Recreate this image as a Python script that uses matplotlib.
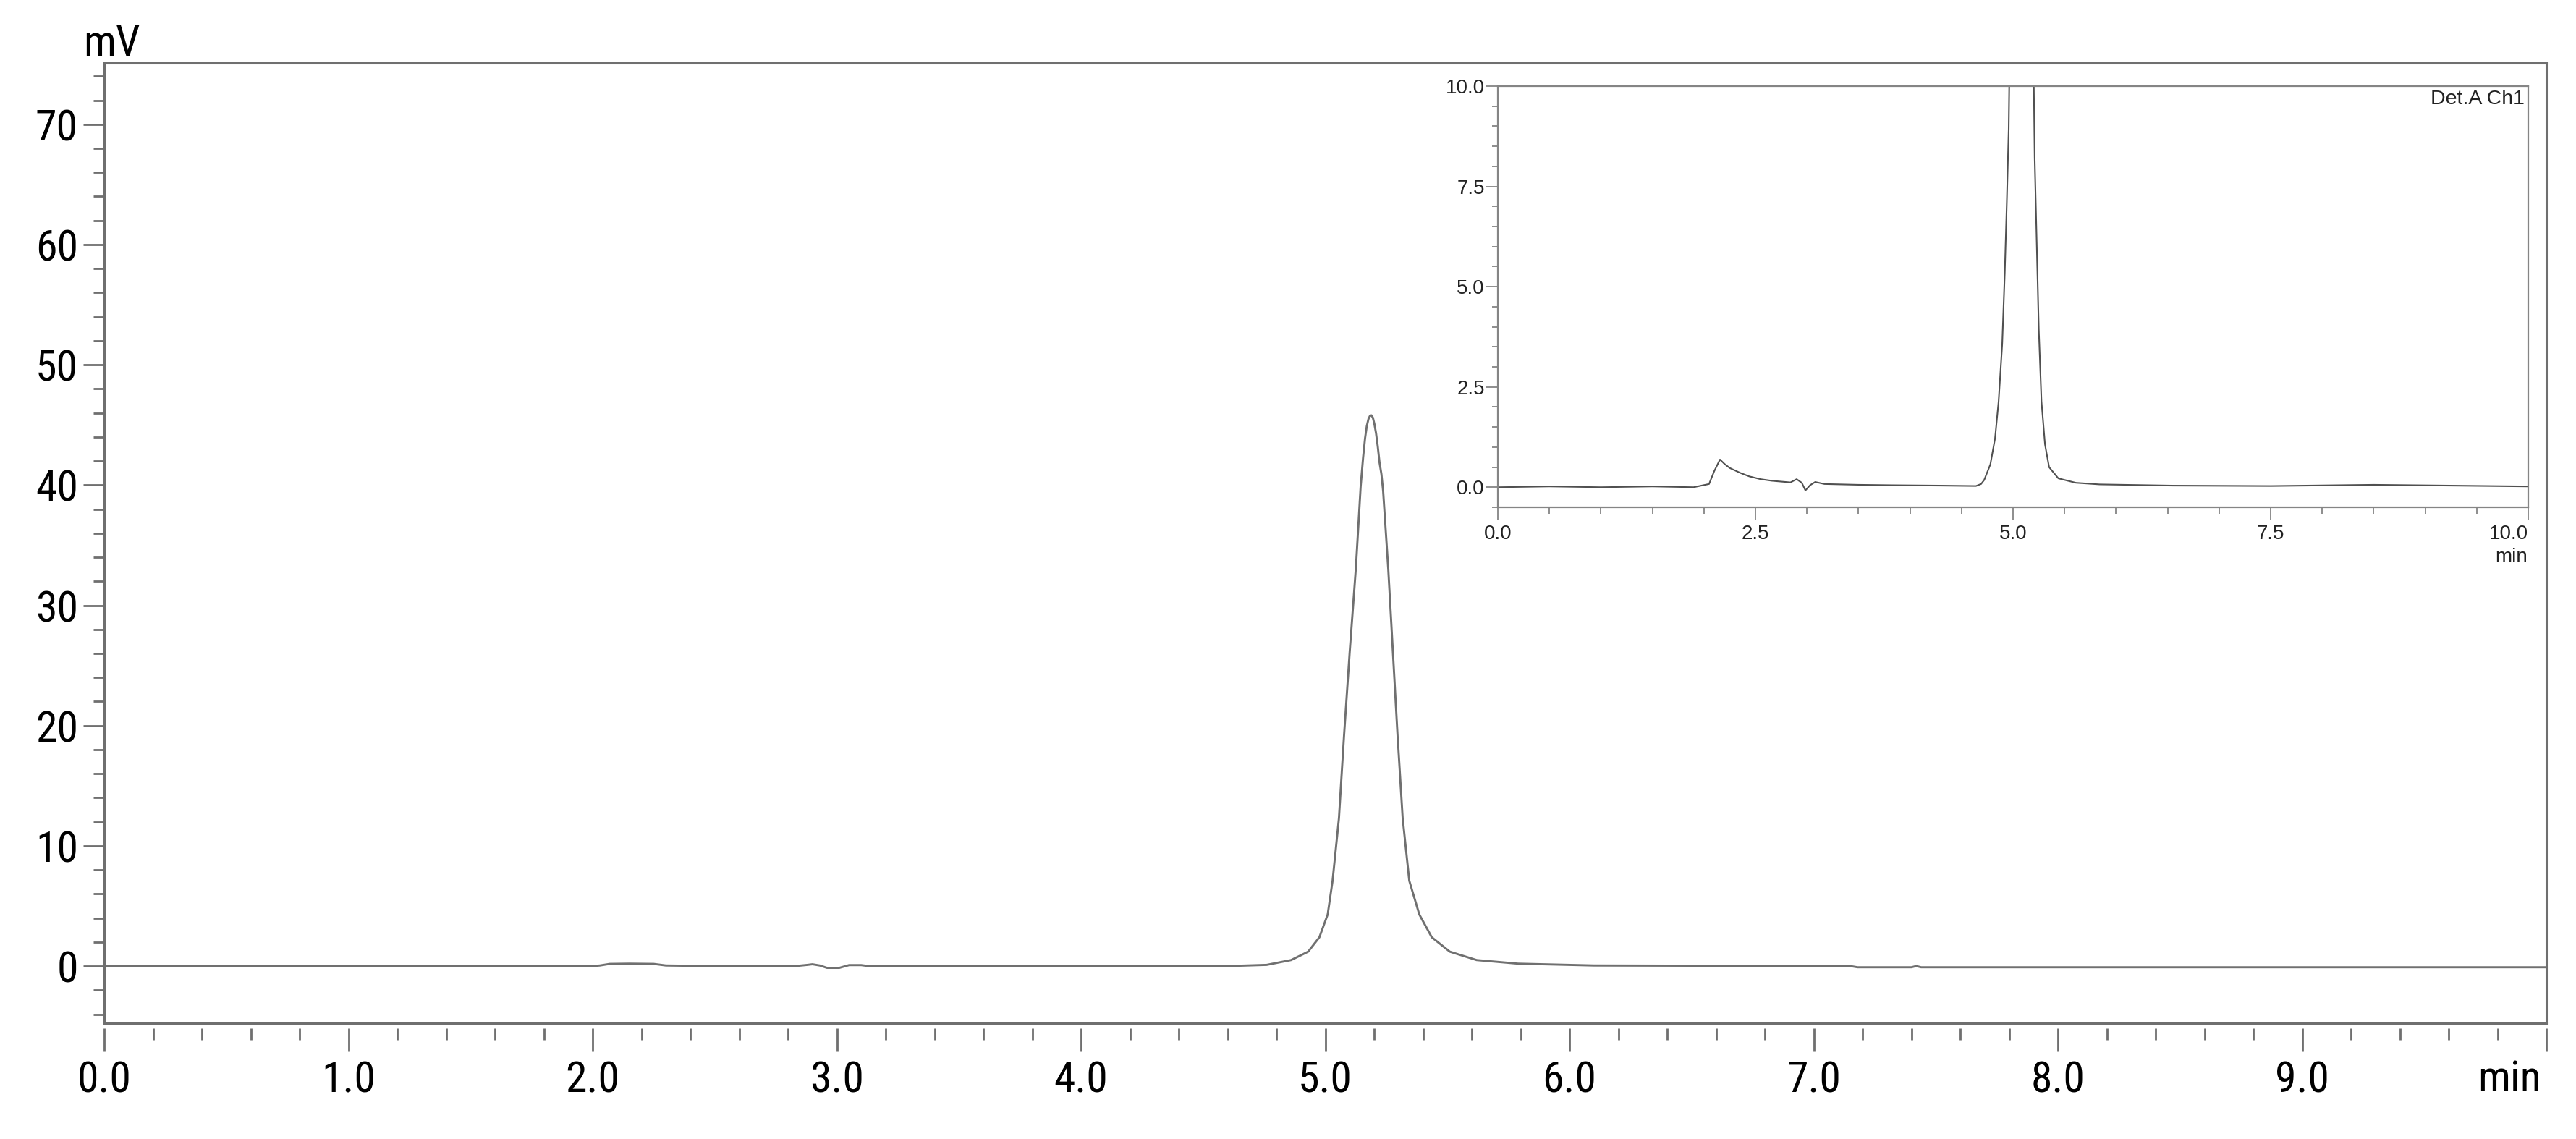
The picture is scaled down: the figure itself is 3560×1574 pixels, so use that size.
import numpy as np
import matplotlib
matplotlib.use('Agg')
import matplotlib.pyplot as plt
from matplotlib.ticker import MultipleLocator, FixedLocator, FixedFormatter

# main chromatogram (min, mV)
main_time = [0.0, 1.0, 2.0, 2.03, 2.07, 2.15, 2.25, 2.30, 2.41, 2.83, 2.88, 2.90,
             2.93, 2.96, 3.01, 3.05, 3.10, 3.13, 4.0, 4.60, 4.76, 4.86, 4.93,
             4.976, 5.01, 5.03, 5.056, 5.077, 5.10, 5.125, 5.145, 5.155, 5.163,
             5.170, 5.177, 5.183, 5.189, 5.195, 5.201, 5.208, 5.215, 5.222, 5.230,
             5.237, 5.258, 5.277, 5.296, 5.317, 5.344,
             5.385, 5.436, 5.51, 5.62, 5.79, 6.10, 7.15, 7.18, 7.40, 7.42, 7.44, 10.0]
main_signal = [0.0, 0.0, 0.0, 0.05, 0.18, 0.2, 0.18, 0.05, 0.02, 0.0, 0.1, 0.15,
               0.05, -0.15, -0.15, 0.08, 0.08, 0.0, 0.0, 0.0, 0.1, 0.5, 1.2,
               2.4, 4.3, 7.1, 12.3, 19.2, 26.1, 33.0, 39.9, 42.3, 43.9,
               44.9, 45.5, 45.75, 45.8, 45.6, 45.1, 44.3, 43.2, 41.9, 40.9,
               39.5, 33.0, 26.1, 19.2, 12.3, 7.1,
               4.3, 2.4, 1.2, 0.5, 0.2, 0.05, 0.0, -0.1, -0.1, 0.0, -0.1, -0.1]

# inset chromatogram (zoomed, Det.A Ch1)
inset_time = [0.0, 0.5, 1.0, 1.5, 1.9, 2.05, 2.10, 2.156, 2.20, 2.25, 2.35, 2.44,
              2.55, 2.66, 2.84, 2.90, 2.95, 2.985, 3.03, 3.08, 3.17, 3.5, 3.82,
              4.3, 4.64, 4.69, 4.72, 4.78, 4.825, 4.86, 4.895, 4.92, 4.94, 4.958,
              4.97, 5.08, 5.195, 5.21, 5.23, 5.25, 5.276, 5.31, 5.35, 5.44, 5.61,
              5.84, 6.55, 7.5, 8.5, 10.0]
inset_signal = [0.0, 0.02, 0.0, 0.02, 0.0, 0.08, 0.4, 0.69, 0.58, 0.48, 0.36, 0.27,
                0.2, 0.16, 0.12, 0.2, 0.11, -0.08, 0.05, 0.13, 0.08, 0.06, 0.05,
                0.04, 0.03, 0.08, 0.18, 0.57, 1.21, 2.14, 3.57, 5.36, 7.14, 8.93,
                11.5, 45.0, 11.5, 8.2, 6.07, 3.93, 2.14, 1.07, 0.5, 0.22, 0.11,
                0.07, 0.04, 0.03, 0.06, 0.02]

main_xticks = [0, 1, 2, 3, 4, 5, 6, 7, 8, 9, 10]
main_xlabels = ['0.0', '1.0', '2.0', '3.0', '4.0', '5.0', '6.0', '7.0', '8.0', '9.0', '']
main_yticks = [0, 10, 20, 30, 40, 50, 60, 70]
inset_xticks = [0.0, 2.5, 5.0, 7.5, 10.0]
inset_yticks = [0.0, 2.5, 5.0, 7.5, 10.0]

W, H = 3560, 1574
narrow = ['Roboto Condensed', 'Liberation Sans', 'DejaVu Sans']
regular = ['Liberation Sans', 'DejaVu Sans']
grey = '#6f6f6f'

fig = plt.figure(figsize=(W / 100, H / 100), dpi=100)
ax = fig.add_axes([144 / W, 1 - 1414 / H, 3375 / W, 1327 / H])

ax.plot(main_time, main_signal, color='#707070', lw=2.1)
ax.set_xlim(0, 10)
ax.set_ylim(-4.75, 75.1)

for s in ['left', 'top', 'right']:
    ax.spines[s].set_color(grey)
    ax.spines[s].set_linewidth(2.2)
# ticks of the x axis sit a little below the frame
ax.spines['bottom'].set_position(('outward', 5))
ax.spines['bottom'].set_color('none')
ax.plot([0, 1], [0, 0], transform=ax.transAxes, color=grey, lw=2.2,
        clip_on=False, solid_capstyle='projecting')

ax.xaxis.set_major_locator(FixedLocator(main_xticks))
ax.xaxis.set_major_formatter(FixedFormatter(main_xlabels))
ax.xaxis.set_minor_locator(MultipleLocator(0.2))
ax.yaxis.set_major_locator(FixedLocator(main_yticks))
ax.yaxis.set_minor_locator(MultipleLocator(2))
ax.tick_params(axis='x', which='major', length=23, width=2.0, color=grey, pad=8)
ax.tick_params(axis='x', which='minor', length=11.5, width=2.0, color=grey)
ax.tick_params(axis='y', which='major', length=21, width=2.0, color=grey, pad=5)
ax.tick_params(axis='y', which='minor', length=10.8, width=2.0, color=grey)
for lab in ax.get_xticklabels() + ax.get_yticklabels():
    lab.set_family(narrow)
    lab.set_fontsize(43)

fig.text(115 / W, 1 - 77 / H, 'mV', ha='left', va='baseline', fontsize=43, family=narrow)
fig.text(3512 / W, 1 - 1508 / H, 'min', ha='right', va='baseline', fontsize=43, family=narrow)

# inset
ax2 = fig.add_axes([2070 / W, 1 - 701 / H, 1424 / W, 582 / H])
ax2.plot(inset_time, inset_signal, color='#505050', lw=1.5)
ax2.set_xlim(0, 10)
ax2.set_ylim(-0.5, 10)
for s in ax2.spines.values():
    s.set_color('#858585')
    s.set_linewidth(1.6)
ax2.xaxis.set_major_locator(FixedLocator(inset_xticks))
ax2.xaxis.set_minor_locator(MultipleLocator(0.5))
ax2.yaxis.set_major_locator(FixedLocator(inset_yticks))
ax2.yaxis.set_minor_locator(MultipleLocator(0.5))
ax2.xaxis.set_major_formatter(FixedFormatter(['%.1f' % v for v in inset_xticks]))
ax2.yaxis.set_major_formatter(FixedFormatter(['%.1f' % v for v in inset_yticks]))
ax2.tick_params(axis='x', which='major', length=12, width=1.3, color='#858585', pad=5.5)
ax2.tick_params(axis='x', which='minor', length=6.5, width=1.3, color='#858585')
ax2.tick_params(axis='y', which='major', length=12, width=1.3, color='#858585', pad=1)
ax2.tick_params(axis='y', which='minor', length=6, width=1.3, color='#858585')
for lab in ax2.get_xticklabels() + ax2.get_yticklabels():
    lab.set_family(regular)
    lab.set_fontsize(20)
    lab.set_color('#222222')
ax2.get_xticklabels()[-1].set_horizontalalignment('right')

ax2.text(1 - 5 / 1424, 1 - 5 / 582, 'Det.A Ch1', transform=ax2.transAxes,
         ha='right', va='top', fontsize=20.5, family=regular, color='#222222')
fig.text(3493 / W, 1 - 777 / H, 'min', ha='right', va='baseline', fontsize=20,
         family=regular, color='#222222')

fig.savefig('out.png', dpi=100)
